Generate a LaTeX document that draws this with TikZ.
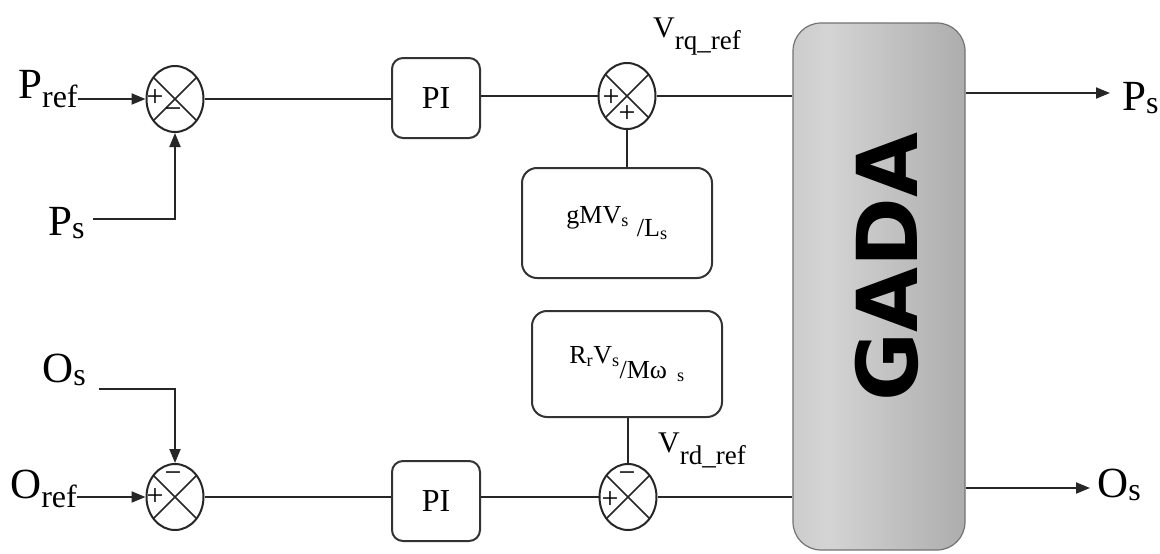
\documentclass[tikz,border=0pt]{standalone}
\usepackage{fontspec}
\setmainfont{Liberation Serif}
\newfontfamily\gadafont{DejaVu Sans}
\usetikzlibrary{arrows.meta,shapes.geometric,calc}
\definecolor{gadaA}{HTML}{8A8A8A}
\definecolor{gadaB}{HTML}{BEBEBE}
\definecolor{gadaC}{HTML}{D4D4D4}
\definecolor{gadaD}{HTML}{ADADAD}
\definecolor{gadaE}{HTML}{6E6E6E}
\pgfdeclarehorizontalshading{gadash}{100bp}{color(0bp)=(gadaA); color(7bp)=(gadaB); color(35bp)=(gadaC); color(75bp)=(gadaD); color(100bp)=(gadaE)}
\newcommand{\lowtxt}[3]{\raisebox{#1}{\fontsize{#2}{#2}\selectfont #3}}
\begin{document}
\begin{tikzpicture}[x=1pt,y=-1pt,
  wire/.style={line width=2pt, draw=black!85},
  arr/.style={wire, -{Triangle[length=14pt,width=11pt]}},
  sumj/.style={ellipse, draw=black!85, line width=2pt, minimum width=57pt, minimum height=66pt, inner sep=0pt,
    path picture={\draw[line width=1.5pt, black!85]
      ([shift={(-45,-45)}]path picture bounding box.center) -- ([shift={(45,45)}]path picture bounding box.center)
      ([shift={(-45,45)}]path picture bounding box.center) -- ([shift={(45,-45)}]path picture bounding box.center);}},
  blk/.style={draw=black!80, line width=2pt, rounded corners=11pt, inner sep=0pt, fill=white},
  piblk/.style={blk, minimum width=88pt, minimum height=80pt, font=\fontsize{32}{32}\selectfont},
  gainblk/.style={blk, rounded corners=15pt, minimum width=190pt, font=\fontsize{26}{26}\selectfont},
  sgn/.style={font=\fontsize{30}{30}\selectfont, inner sep=0pt},
  lbl/.style={anchor=base west, inner sep=0pt, font=\fontsize{43}{43}\selectfont},
  vlbl/.style={anchor=base west, inner sep=0pt, font=\fontsize{30}{30}\selectfont},
]
\useasboundingbox (0,0) rectangle (1160,554);
\fill[white] (0,0) rectangle (1160,554);

% GADA block
\node[draw=black!55, line width=1.2pt, rounded corners=28pt, shading=gadash, minimum width=172pt, minimum height=527pt, inner sep=0pt] (gada) at (879,286.5) {};
\node[rotate=90, inner sep=0pt, font=\gadafont\bfseries\fontsize{84}{84}\selectfont] (gadatxt) at (887,267) {GADA};

% top row
\node[sumj] (s1) at (175,99) {};
\node[sgn] (s1p) at (155,98) {+};
\node[sgn] (s1m) at (173,113) {−};
\node[piblk] (pi1) at (436,98) {PI};
\node[sumj] (s2) at (627,96) {};
\node[sgn] (s2p) at (611,98) {+};
\node[sgn] (s2b) at (627,114) {+};
\node[gainblk, minimum height=110pt] (gmv) at (617,223) {gMV\textsubscript{s}\hspace{8pt}\raisebox{-13pt}{/L\textsubscript{s}}};

% bottom row
\node[sumj] (s3) at (175,497) {};
\node[sgn] (s3m) at (173,477) {−};
\node[sgn] (s3p) at (155,497) {+};
\node[piblk] (pi2) at (436,501) {PI};
\node[sumj] (s4) at (628,497) {};
\node[sgn] (s4m) at (627,477) {−};
\node[sgn] (s4p) at (610,500) {+};
\node[gainblk, minimum height=106pt] (rrv) at (627,364) {R\textsubscript{r}V\textsubscript{s}\raisebox{-15pt}{/Mω\hspace{10pt}\textsubscript{s}}};

% labels
\node[lbl] (pref) at (18,98) {P\lowtxt{-9pt}{32}{ref}};
\node[lbl] (psin) at (48,235) {P\lowtxt{-3pt}{32}{s}};
\node[lbl] (osin) at (42,382) {O\lowtxt{-3pt}{32}{s}};
\node[lbl] (oref) at (10,498) {O\lowtxt{-9pt}{32}{ref}};
\node[lbl] (psout) at (1122,110) {P\lowtxt{-3pt}{32}{s}};
\node[lbl] (osout) at (1097,497) {O\lowtxt{-3pt}{32}{s}};
\node[vlbl] (vrq) at (653,37) {V\lowtxt{-13pt}{27}{rq\_ref}};
\node[vlbl] (vrd) at (658,452) {V\lowtxt{-12pt}{27}{rd\_ref}};

% connectors top
\draw[arr] (pref.east |- s1.west) -- (s1.west);
\draw[arr] ($(psin.base east)+(8,-16)$) -| (s1.south);
\draw[wire] (s1.east) -- (pi1.west |- s1.east);
\draw[wire] (pi1.east |- s2.west) -- (s2.west);
\draw[wire] (s2.east) -- (s2.east -| gada.west);
\draw[wire] (gmv.north -| s2.south) -- (s2.south);

% connectors bottom
\draw[arr] (oref.east |- s3.west) -- (s3.west);
\draw[arr] ($(osin.base east)+(13,7)$) -| (s3.north);
\draw[wire] (s3.east) -- (pi2.west |- s3.east);
\draw[wire] (pi2.east |- s4.west) -- (s4.west);
\draw[wire] (s4.east) -- (s4.east -| gada.west);
\draw[wire] (rrv.south -| s4.north) -- (s4.north);

% outputs
\coordinate (pend) at (1110,93);
\coordinate (oend) at (1090,488);
\draw[arr] (gada.east |- pend) -- (pend);
\draw[arr] (gada.east |- oend) -- (oend);
\end{tikzpicture}
\end{document}
